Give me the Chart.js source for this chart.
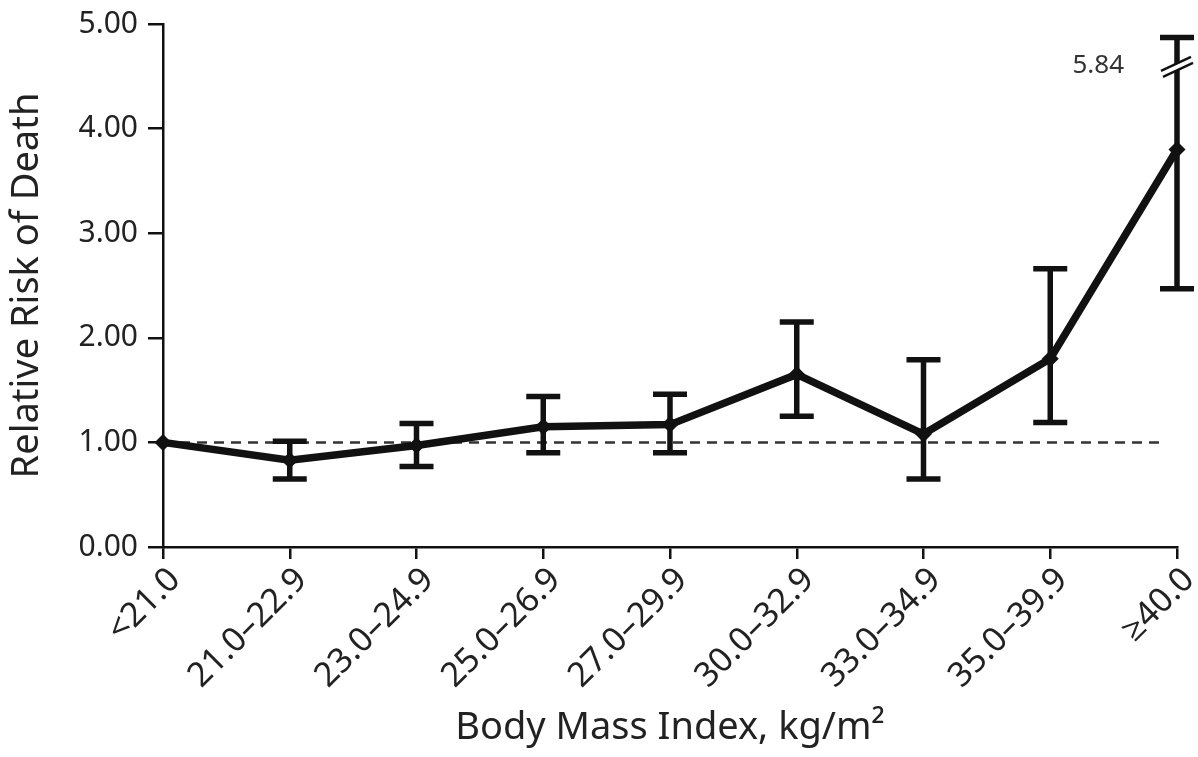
<!DOCTYPE html>
<html>
<head>
<meta charset="utf-8">
<script src="https://cdn.jsdelivr.net/npm/chart.js@4/dist/chart.umd.min.js"></script>
<style>
  html, body { margin: 0; padding: 0; background: #fff; }
  #wrap { width: 1198px; height: 757px; }
</style>
</head>
<body>
<div id="wrap"><canvas id="c" width="1198" height="757"></canvas></div>
<script>
const categories = ['<21.0', '21.0–22.9', '23.0–24.9', '25.0–26.9', '27.0–29.9', '30.0–32.9', '33.0–34.9', '35.0–39.9', '≥40.0'];
const relativeRisk = [1.00, 0.83, 0.97, 1.15, 1.17, 1.65, 1.08, 1.80, 3.80];
const ciLower = [null, 0.65, 0.77, 0.90, 0.90, 1.25, 0.65, 1.19, 2.47];
const ciUpper = [null, 1.01, 1.18, 1.44, 1.46, 2.15, 1.79, 2.66, 5.84];
const yTickValues = [0, 1, 2, 3, 4, 5];
const referenceRisk = 1.0;
const axisBreakShownAt = 4.87;   // where the off-scale upper CI is drawn
const axisBreakMarkAt = 4.59;    // where the break marks sit

const FONT = '"Noto Sans", "Open Sans", sans-serif';
const INK = '#111';
const TEXT = '#222';

const refLinePlugin = {
  id: 'refLine',
  beforeDatasetsDraw(chart) {
    const { ctx, scales: { x, y } } = chart;
    const py = y.getPixelForValue(referenceRisk);
    ctx.save();
    ctx.strokeStyle = '#333';
    ctx.lineWidth = 2.5;
    ctx.setLineDash([10, 7]);
    ctx.beginPath();
    ctx.moveTo(x.left, py);
    ctx.lineTo(x.right - 17, py);
    ctx.stroke();
    ctx.restore();
  }
};

const errorBarPlugin = {
  id: 'errorBars',
  afterDatasetsDraw(chart) {
    const { ctx, scales: { x, y } } = chart;
    ctx.save();
    ctx.strokeStyle = INK;
    ctx.lineWidth = 5.5;
    ctx.lineCap = 'butt';
    const cap = 17;
    categories.forEach((c, i) => {
      if (ciLower[i] == null || ciUpper[i] == null) return;
      const px = x.getPixelForValue(i);
      const broken = ciUpper[i] > y.max;
      const upVal = broken ? axisBreakShownAt : ciUpper[i];
      const pTop = y.getPixelForValue(upVal);
      const pBot = y.getPixelForValue(ciLower[i]);
      ctx.beginPath();
      ctx.moveTo(px, pTop); ctx.lineTo(px, pBot);
      ctx.moveTo(px - cap, pTop); ctx.lineTo(px + cap, pTop);
      ctx.moveTo(px - cap, pBot); ctx.lineTo(px + cap, pBot);
      ctx.stroke();
      if (broken) {
        const pb = y.getPixelForValue(axisBreakMarkAt);
        ctx.save();
        ctx.strokeStyle = '#fff';
        ctx.lineWidth = 5;
        ctx.beginPath();
        ctx.moveTo(px - 14, pb + 7); ctx.lineTo(px + 14, pb - 7);
        ctx.stroke();
        ctx.restore();
        ctx.save();
        ctx.lineWidth = 2.4;
        ctx.beginPath();
        ctx.moveTo(px - 16, pb + 4); ctx.lineTo(px + 14, pb - 10);
        ctx.moveTo(px - 14, pb + 10); ctx.lineTo(px + 16, pb - 4);
        ctx.stroke();
        ctx.restore();
        ctx.fillStyle = '#333';
        ctx.font = '26px ' + FONT;
        ctx.textAlign = 'right';
        ctx.textBaseline = 'middle';
        ctx.fillText(ciUpper[i].toFixed(2), px - 53, pb - 1);
      }
    });
    ctx.restore();
  }
};

new Chart(document.getElementById('c'), {
  type: 'line',
  data: {
    labels: categories,
    datasets: [{
      data: relativeRisk,
      borderColor: INK,
      backgroundColor: INK,
      borderWidth: 7.5,
      pointStyle: 'rectRot',
      pointRadius: 8.5,
      pointBorderWidth: 0,
      tension: 0,
      clip: false
    }]
  },
  options: {
    responsive: false,
    animation: false,
    layout: { padding: { top: 24, right: 21, left: 0, bottom: 0 } },
    plugins: { legend: { display: false }, tooltip: { enabled: false } },
    scales: {
      x: {
        type: 'category',
        offset: false,
        border: { display: true, color: INK, width: 2.5 },
        grid: { display: true, drawOnChartArea: false, drawTicks: true, tickLength: 12, color: INK, lineWidth: 2.5 },
        ticks: { color: TEXT, font: { family: FONT, size: 34 }, minRotation: 45, maxRotation: 45, autoSkip: false, padding: 1, labelOffset: 12 },
        title: { display: true, text: 'Body Mass Index, kg/m²', color: TEXT, font: { family: FONT, size: 38 }, padding: { top: 0, bottom: 6 } },
        afterFit(scale) { scale.height = 210; scale.paddingLeft = 0; scale.paddingRight = 0; }
      },
      y: {
        min: 0, max: 5,
        afterBuildTicks(scale) { scale.ticks = yTickValues.map(v => ({ value: v })); },
        border: { display: true, color: INK, width: 2.5 },
        grid: { display: true, drawOnChartArea: false, drawTicks: true, tickLength: 15, color: INK, lineWidth: 2.5 },
        ticks: { color: TEXT, font: { family: FONT, size: 30 }, padding: 10, callback: v => Number(v).toFixed(2) },
        title: { display: true, text: 'Relative Risk of Death', color: TEXT, font: { family: FONT, size: 38 }, padding: { top: 4, bottom: 14 } },
        afterFit(scale) { scale.width = 163; scale.paddingTop = 0; scale.paddingBottom = 0; }
      }
    }
  },
  plugins: [refLinePlugin, errorBarPlugin]
});
</script>
</body>
</html>
